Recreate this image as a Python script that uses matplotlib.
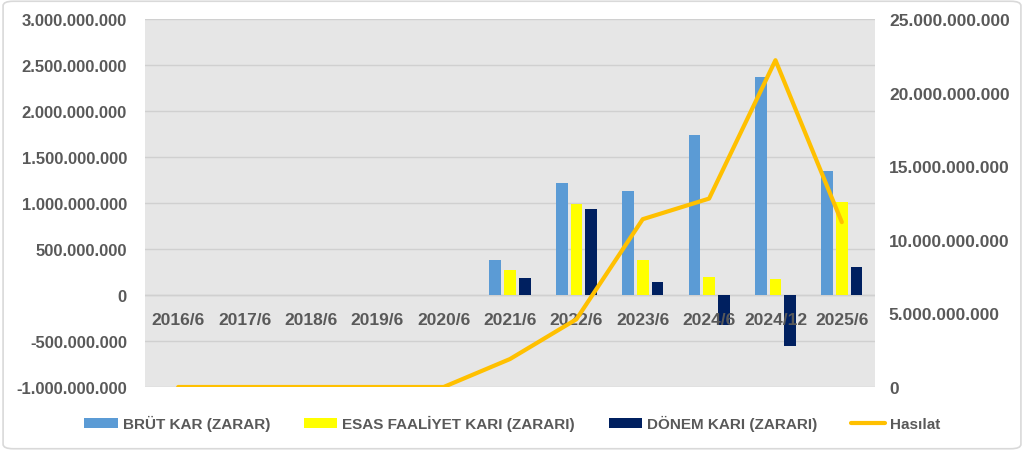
import numpy as np
import matplotlib.pyplot as plt
from matplotlib.ticker import FuncFormatter
from matplotlib.patches import FancyBboxPatch

plt.rcParams['font.family'] = ['Liberation Sans', 'DejaVu Sans']

periods = ['2016/6', '2017/6', '2018/6', '2019/6', '2020/6', '2021/6',
           '2022/6', '2023/6', '2024/6', '2024/12', '2025/6']
brut_kar = [0, 0, 0, 0, 0, 384e6, 1217e6, 1130e6, 1736e6, 2373e6, 1345e6]
esas_faaliyet = [0, 0, 0, 0, 0, 272e6, 989e6, 380e6, 199e6, 174e6, 1014e6]
donem_kari = [0, 0, 0, 0, 0, 185e6, 935e6, 145e6, -326e6, -551e6, 304e6]
hasilat = [0, 0, 0, 0, 0, 1.9e9, 4.6e9, 11.4e9, 12.8e9, 22.2e9, 11.2e9]

txt = '#595959'


def tr_fmt(v, pos):
    return '{:,.0f}'.format(v).replace(',', '.')


fig = plt.figure(figsize=(10.24, 4.52), dpi=100)
fig.patches.append(FancyBboxPatch((0.003, 0.005), 0.994, 0.99, boxstyle='round,pad=0,rounding_size=0.01',
                                  transform=fig.transFigure, fill=False, edgecolor='#d9d9d9', lw=1.2))
ax = fig.add_axes([145 / 1024, 1 - 388 / 452, 730 / 1024, 368 / 452])
ax2 = ax.twinx()
ax.set_zorder(ax2.get_zorder() - 1)
ax2.patch.set_visible(False)
ax.set_facecolor('#e6e6e6')

x = np.arange(len(periods))
w = 0.176
off = 0.221
b1 = ax.bar(x - off, brut_kar, w, color='#5b9bd5', label='BRÜT KAR (ZARAR)', zorder=3)
b2 = ax.bar(x, esas_faaliyet, w, color='#ffff00', label='ESAS FAALİYET KARI (ZARARI)', zorder=3)
b3 = ax.bar(x + off, donem_kari, w, color='#002060', label='DÖNEM KARI (ZARARI)', zorder=3)
l1, = ax2.plot(x, hasilat, color='#ffc000', lw=3, label='Hasılat', solid_capstyle='round')

ax.set_xlim(-0.5, len(periods) - 0.5)
ax.set_ylim(-1e9, 3e9)
ax.set_yticks(np.arange(-1e9, 3.01e9, 5e8))
ax.yaxis.set_major_formatter(FuncFormatter(tr_fmt))
ax.grid(axis='y', color='#d0d0d0', lw=1, zorder=0)
ax.axhline(0, color='#d0d0d0', lw=1, zorder=1)
ax2.set_ylim(0, 25e9)
ax2.set_yticks(np.arange(0, 25.01e9, 5e9))
ax2.yaxis.set_major_formatter(FuncFormatter(tr_fmt))

for s in list(ax.spines.values()) + list(ax2.spines.values()):
    s.set_visible(False)
ax.tick_params(length=0, labelsize=12, labelcolor=txt)
ax2.tick_params(length=0, labelsize=12.5, labelcolor=txt)
for lab in ax.get_yticklabels() + ax2.get_yticklabels():
    lab.set_fontweight('bold')

ax.set_xticks([])
for xi, p in zip(x, periods):
    ax.text(xi, -0.265e9, p, ha='center', va='center', fontsize=12.5, fontweight='bold', color=txt, zorder=4)

ax.tick_params(axis='y', pad=13)
ax2.tick_params(axis='y', pad=10)

fig.legend(handles=[b1, b2, b3, l1], loc='center', bbox_to_anchor=(0.5, 1 - 424 / 452), ncol=4,
           frameon=False, prop={'size': 11, 'weight': 'bold'}, labelcolor=txt,
           handlelength=2.2, handleheight=0.65, columnspacing=2.2, handletextpad=0.33)
fig.savefig('out.png', dpi=100, facecolor='white')
